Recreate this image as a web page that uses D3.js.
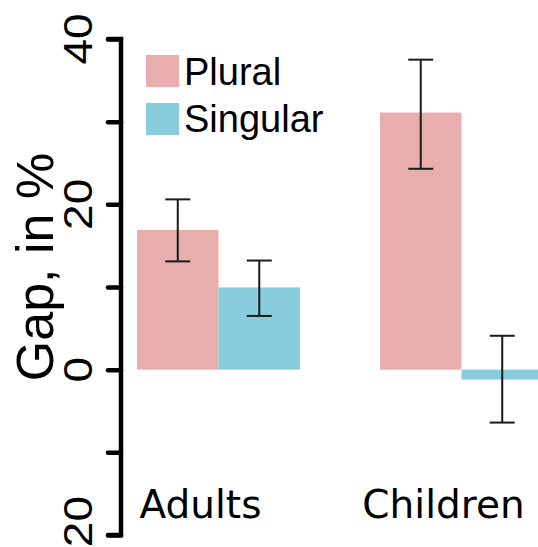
<!DOCTYPE html>
<html><head><meta charset="utf-8">
<script src="https://cdn.jsdelivr.net/npm/d3@7"></script>
<style>body{margin:0;background:#fff}svg{display:block}</style>
</head><body>
<script>
const groups = ["Adults", "Children"];
const seriesNames = ["Plural", "Singular"];
const pluralValues = [16.9, 31.1];
const pluralLow = [13.1, 24.3];
const pluralHigh = [20.6, 37.5];
const singularValues = [9.95, -1.2];
const singularLow = [6.5, -6.4];
const singularHigh = [13.2, 4.1];
const yTicks = [-20, -10, 0, 10, 20, 30, 40];
const yTickLabels = [-20, 0, 20, 40];
const colors = ["#e8aeae", "#88cddc"];

const W = 538, H = 547;
const svg = d3.select("body").append("svg").attr("width", W).attr("height", H);

const y = d3.scaleLinear().domain([-20, 40]).range([535, 39]);
const x0 = d3.scaleBand().domain(groups).range([137, 543]).paddingInner(0.329).paddingOuter(0);
const x1 = d3.scaleBand().domain(seriesNames).range([0, x0.bandwidth()]);

const rows = [];
groups.forEach((g, i) => {
  rows.push({g, s: "Plural", v: pluralValues[i], lo: pluralLow[i], hi: pluralHigh[i], c: colors[0]});
  rows.push({g, s: "Singular", v: singularValues[i], lo: singularLow[i], hi: singularHigh[i], c: colors[1]});
});

svg.append("g").selectAll("rect").data(rows).join("rect")
  .attr("x", d => x0(d.g) + x1(d.s))
  .attr("width", x1.bandwidth())
  .attr("y", d => y(Math.max(0, d.v)))
  .attr("height", d => Math.abs(y(d.v) - y(0)))
  .attr("fill", d => d.c);

const capW = 12.5;
const eb = svg.append("g").attr("stroke", "#1a1a1a").attr("stroke-width", 2);
rows.forEach(d => {
  const cx = x0(d.g) + x1(d.s) + x1.bandwidth() / 2;
  eb.append("line").attr("x1", cx).attr("x2", cx).attr("y1", y(d.lo)).attr("y2", y(d.hi));
  eb.append("line").attr("x1", cx - capW).attr("x2", cx + capW).attr("y1", y(d.lo)).attr("y2", y(d.lo));
  eb.append("line").attr("x1", cx - capW).attr("x2", cx + capW).attr("y1", y(d.hi)).attr("y2", y(d.hi));
});

// y axis
const axisG = svg.append("g").attr("transform", "translate(121,0)")
  .call(d3.axisLeft(y).tickValues(yTicks).tickSize(13).tickFormat(""));
axisG.select(".domain").attr("d", `M-13,${y(40)}H0V${y(-20)}H-13`).attr("stroke", "#000").attr("stroke-width", 4.5).attr("fill", "none").attr("stroke-linecap", "round");
axisG.selectAll(".tick line").attr("stroke", "#000").attr("stroke-width", 4.5).attr("stroke-linecap", "round");

svg.append("g").selectAll("text").data(yTickLabels).join("text")
  .attr("transform", d => `translate(92,${y(d)}) rotate(-90) scale(1.15,1)`)
  .attr("text-anchor", "middle")
  .attr("font-family", "Liberation Sans, Arial, sans-serif")
  .attr("font-size", 40)
  .attr("fill", "#000")
  .text(d => d < 0 ? "\u2212" + Math.abs(d) : d);

svg.append("text")
  .attr("transform", `translate(53,${267}) rotate(-90)`)
  .attr("text-anchor", "middle")
  .attr("font-family", "Liberation Sans, Arial, sans-serif")
  .attr("font-size", 52)
  .attr("fill", "#000")
  .text("Gap, in %");

// x labels
svg.append("g").selectAll("text").data(groups).join("text")
  .attr("x", d => x0(d) + x0.bandwidth() / 2 - 18)
  .attr("y", 518)
  .attr("text-anchor", "middle")
  .attr("font-family", "DejaVu Sans, sans-serif")
  .attr("font-size", 39)
  .attr("fill", "#000")
  .text(d => d);

// legend
const lg = svg.append("g");
seriesNames.forEach((s, i) => {
  lg.append("rect").attr("x", 146).attr("y", 55 + i * 48).attr("width", 33).attr("height", 32).attr("fill", colors[i]);
  lg.append("text").attr("x", 184).attr("y", 85 + i * 47)
    .attr("font-family", "Liberation Sans, Arial, sans-serif")
    .attr("font-size", 38).attr("fill", "#000").text(s);
});
</script>
</body></html>
